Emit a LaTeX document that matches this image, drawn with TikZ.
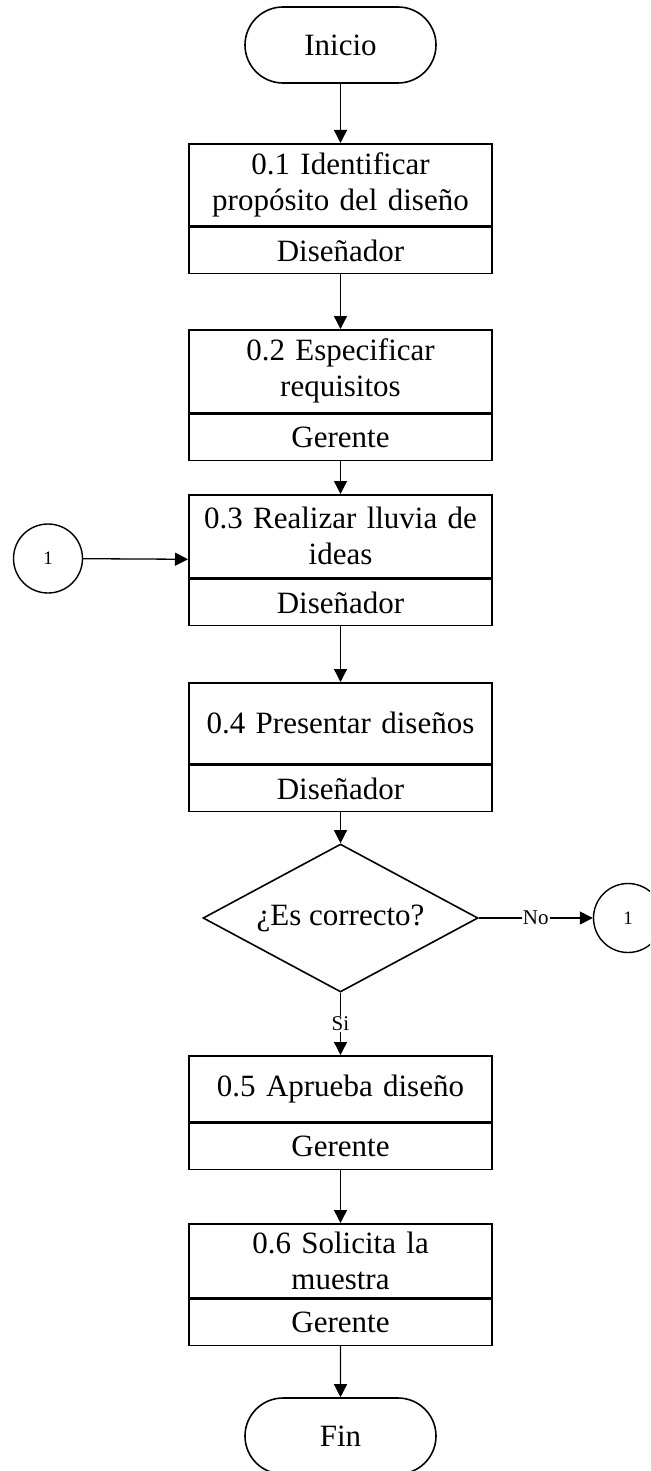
\documentclass[tikz,border=0pt]{standalone}
\usepackage{fontspec}
\setmainfont{Liberation Serif}
\usetikzlibrary{shapes.geometric,shapes.misc,arrows.meta,fit}
\begin{document}
\begin{tikzpicture}[x=1pt,y=-1pt,
  every node/.style={font=\fontsize{31}{36}\selectfont},
  shape lw/.style={line width=1.6pt},
  term/.style={rounded rectangle, draw, shape lw, minimum width=191pt, minimum height=76pt, inner sep=0pt},
  task/.style={rectangle, draw, shape lw, minimum width=303pt, inner sep=0pt, align=center, text width=296pt},
  role/.style={task, minimum height=46pt},
  decision/.style={diamond, draw, shape lw, aspect=1.858, minimum width=275pt, minimum height=148pt, inner sep=0pt},
  link/.style={circle, draw, line width=1.4pt, minimum size=69pt, inner sep=0pt, font=\fontsize{19}{22}\selectfont},
  flow/.style={draw, line width=1.3pt, -{Triangle[length=13pt,width=13pt]}},
  tag/.style={fill=white, inner sep=1pt, font=\fontsize{21}{23}\selectfont}
]
\useasboundingbox (0,0) rectangle (650,1471);
\clip (0,0) rectangle (650,1471);

% start / end
\node[term] (inicio) at (340.5,45) {Inicio};
\node[term] (fin) at (340.5,1436) {Fin};

% task boxes: activity on top, responsible role below
\node[task, minimum height=82pt, anchor=north] (t1) at (340.5,143) {0.1 Identificar\\propósito del diseño};
\node[role, anchor=north] (r1) at (t1.south) {Diseñador};

\node[task, minimum height=83pt, anchor=north] (t2) at (340.5,329) {0.2 Especificar\\requisitos};
\node[role, anchor=north] (r2) at (t2.south) {Gerente};

\node[task, minimum height=83pt, anchor=north] (t3) at (340.5,494) {0.3 Realizar lluvia de\\ideas};
\node[role, anchor=north] (r3) at (t3.south) {Diseñador};
\node[fit=(t3)(r3), inner sep=0pt] (b3) {};

\node[task, minimum height=81pt, anchor=north] (t4) at (340.5,682) {0.4 Presentar diseños};
\node[role, anchor=north] (r4) at (t4.south) {Diseñador};

\node[decision] (q) at (340.5,918) {¿Es correcto?};

\node[task, minimum height=66pt, anchor=north] (t5) at (340.5,1055) {0.5 Aprueba diseño};
\node[role, anchor=north] (r5) at (t5.south) {Gerente};

\node[task, minimum height=74pt, anchor=north] (t6) at (340.5,1223) {0.6 Solicita la\\muestra};
\node[role, anchor=north] (r6) at (t6.south) {Gerente};

% off-page connectors
\node[link] (c1) at (48,558.5) {1};
\node[link] (c2) at (628,918) {1};

% flow
\draw[flow] (inicio) -- (t1);
\draw[flow] (r1) -- (t2);
\draw[flow] (r2) -- (t3);
\draw[flow] (c1) -- (b3);
\draw[flow] (r3) -- (t4);
\draw[flow] (r4) -- (q);
\draw[flow] (q) -- node[tag]{No} (c2);
\draw[flow] (q) -- node[tag]{Si} (t5);
\draw[flow] (r5) -- (t6);
\draw[flow] (r6) -- (fin);
\end{tikzpicture}
\end{document}
